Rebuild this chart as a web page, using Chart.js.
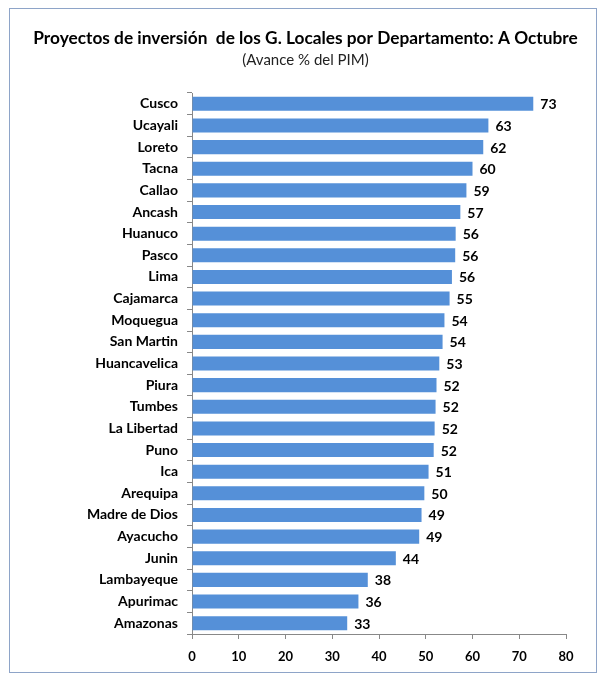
<!DOCTYPE html>
<html><head><meta charset="utf-8">
<script src="https://cdn.jsdelivr.net/npm/chart.js@4/dist/chart.umd.min.js"></script>
<style>html,body{margin:0;padding:0;background:#fff;}#wrap{width:601px;height:675px;position:relative;}</style>
</head><body><div id="wrap"><canvas id="c" width="601" height="675"></canvas></div>
<script>
const titleText = "Proyectos de inversión  de los G. Locales por Departamento: A Octubre";
const subtitleText = "(Avance % del PIM)";
const departamentos = ["Cusco","Ucayali","Loreto","Tacna","Callao","Ancash","Huanuco","Pasco","Lima","Cajamarca","Moquegua","San Martin","Huancavelica","Piura","Tumbes","La Libertad","Puno","Ica","Arequipa","Madre de Dios","Ayacucho","Junin","Lambayeque","Apurimac","Amazonas"];
const avance = [73.0,63.4,62.3,60.0,58.7,57.4,56.4,56.3,55.6,55.1,54.0,53.6,52.9,52.3,52.1,51.9,51.7,50.6,49.7,49.1,48.6,43.6,37.6,35.6,33.2];
const xTicks = [0,10,20,30,40,50,60,70,80];

const FONT = "Lato, 'Open Sans', sans-serif";

const frame = {
  id:'frame',
  beforeDraw(chart){
    const ctx = chart.ctx;
    ctx.save();
    ctx.fillStyle='#fff';
    ctx.fillRect(0,0,chart.width,chart.height);
    ctx.strokeStyle='#8EA4C8';
    ctx.lineWidth=1;
    ctx.strokeRect(9.5,8.5,587,664);
    ctx.textAlign='center';
    ctx.textBaseline='middle';
    ctx.fillStyle='#000';
    ctx.font = "bold 17.3px " + FONT;
    ctx.fillText(titleText, 305.5, 38);
    ctx.fillStyle='#222';
    ctx.font = "15px " + FONT;
    ctx.fillText(subtitleText, 305.5, 60);
    ctx.restore();
  }
};
const valueLabels = {
  id:'valueLabels',
  afterDatasetsDraw(chart){
    const ctx = chart.ctx;
    const meta = chart.getDatasetMeta(0);
    ctx.save();
    ctx.font = "bold 14px " + FONT;
    ctx.fillStyle = '#000';
    ctx.textAlign='left';
    ctx.textBaseline='middle';
    meta.data.forEach((bar,i)=>{
      ctx.fillText(String(Math.round(avance[i])), bar.x+7, bar.y+1);
    });
    ctx.restore();
  }
};

new Chart(document.getElementById('c'),{
  type:'bar',
  data:{labels:departamentos,datasets:[{data:avance,backgroundColor:'#5590D8',borderWidth:0,barPercentage:0.65,categoryPercentage:1}]},
  options:{
    indexAxis:'y',
    responsive:false,
    animation:false,
    devicePixelRatio:1,
    layout:{padding:{left:44,right:35,top:93,bottom:6}},
    plugins:{
      legend:{display:false},
      tooltip:{enabled:false},
      title:{display:false},
      subtitle:{display:false}
    },
    scales:{
      x:{
        min:0,max:80,
        afterBuildTicks(s){ s.ticks = xTicks.map(v=>({value:v})); },
        grid:{display:true,drawOnChartArea:false,drawTicks:true,tickLength:5,color:'#888'},
        border:{display:true,color:'#888'},
        ticks:{color:'#000',font:{family:FONT,size:13,weight:'bold'},padding:10,maxRotation:0},
        afterFit(s){ s.height = 35; }
      },
      y:{
        grid:{display:true,drawOnChartArea:false,drawTicks:true,tickLength:5,color:'#888',offset:true},
        border:{display:true,color:'#888'},
        ticks:{color:'#000',font:{family:FONT,size:14,weight:'bold'},padding:9,autoSkip:false},
        afterFit(s){ s.width = 148; }
      }
    }
  },
  plugins:[frame,valueLabels]
});
</script></body></html>
